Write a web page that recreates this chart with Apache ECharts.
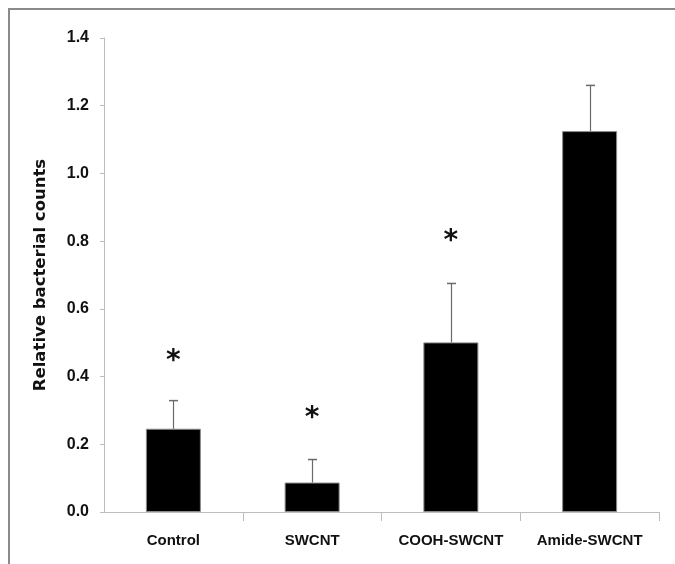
<!DOCTYPE html>
<html>
<head>
<meta charset="utf-8">
<script src="https://cdn.jsdelivr.net/npm/echarts@6/dist/echarts.min.js"></script>
<style>
html,body{margin:0;padding:0;background:#fff;}
#chart{width:675px;height:564px;}
</style>
</head>
<body>
<div id="chart"></div>
<script>
var categories = ['Control', 'SWCNT', 'COOH-SWCNT', 'Amide-SWCNT'];
var means = [0.246, 0.087, 0.501, 1.125];
var errorTops = [0.329, 0.155, 0.675, 1.26];
var starValues = [0.468, 0.300, 0.822, null];
var yTicks = [0, 0.2, 0.4, 0.6, 0.8, 1.0, 1.2, 1.4];

var labelFont = "'Liberation Sans', Arial, sans-serif";

var chart = echarts.init(document.getElementById('chart'), null, {renderer: 'canvas'});

var errData = categories.map(function (c, i) { return [i, means[i], errorTops[i]]; });
var starData = [];
categories.forEach(function (c, i) { if (starValues[i] != null) starData.push([i, starValues[i]]); });

chart.setOption({
  animation: false,
  backgroundColor: '#ffffff',
  graphic: [
    { type: 'line', shape: {x1: 8, y1: 9, x2: 675, y2: 9}, style: {stroke: '#8a8a8a', lineWidth: 2} },
    { type: 'line', shape: {x1: 9, y1: 8, x2: 9, y2: 564}, style: {stroke: '#8a8a8a', lineWidth: 2} }
  ],
  grid: { left: 104, right: 16, top: 38, bottom: 52, containLabel: false },
  xAxis: {
    type: 'category',
    data: categories,
    boundaryGap: true,
    axisLine: { show: true, lineStyle: { color: '#bdbdbd', width: 1 } },
    axisTick: { show: true, length: 9, inside: false, lineStyle: { color: '#bdbdbd' },
      interval: function (i) { return i !== 0; } },
    axisLabel: { interval: 0, margin: 21, color: '#111', fontFamily: labelFont, fontWeight: 'bold', fontSize: 15 },
    splitLine: { show: false }
  },
  yAxis: {
    type: 'value',
    min: yTicks[0],
    max: yTicks[yTicks.length - 1],
    interval: 0.2,
    name: 'Relative bacterial counts',
    nameLocation: 'middle',
    nameGap: 55,
    nameRotate: 90,
    nameTextStyle: { color: '#111', fontFamily: 'DejaVu Sans', fontWeight: 'bold', fontSize: 16.5 },
    axisLine: { show: true, lineStyle: { color: '#bdbdbd', width: 1 } },
    axisTick: { show: true, length: 4, lineStyle: { color: '#bdbdbd' } },
    axisLabel: { margin: 15, color: '#111', fontFamily: labelFont, fontWeight: 'bold', fontSize: 16,
      formatter: function (v) { return v.toFixed(1); } },
    splitLine: { show: false }
  },
  series: [
    {
      type: 'bar',
      data: means,
      barWidth: 55,
      itemStyle: { color: '#000', borderColor: '#8c8c8c', borderWidth: 1 },
      z: 2
    },
    {
      type: 'custom',
      data: errData,
      z: 3,
      renderItem: function (params, api) {
        var x = api.value(0);
        var p0 = api.coord([x, api.value(1)]);
        var p1 = api.coord([x, api.value(2)]);
        var cx = Math.round(p0[0]) + 0.5;
        var capHalf = 4.5;
        return {
          type: 'group',
          children: [
            { type: 'line', shape: {x1: cx, y1: p0[1], x2: cx, y2: p1[1]}, style: {stroke: '#6a6a6a', lineWidth: 1.2} },
            { type: 'line', shape: {x1: cx - capHalf, y1: p1[1], x2: cx + capHalf, y2: p1[1]}, style: {stroke: '#6a6a6a', lineWidth: 1.5} }
          ]
        };
      }
    },
    {
      type: 'custom',
      data: starData,
      z: 4,
      renderItem: function (params, api) {
        var p = api.coord([api.value(0), api.value(1)]);
        return {
          type: 'text',
          x: p[0],
          y: p[1] + 8,
          style: { text: '*', fill: '#111', font: 'bold 28px "DejaVu Sans"', align: 'center', verticalAlign: 'middle' }
        };
      }
    }
  ]
});
</script>
</body>
</html>
